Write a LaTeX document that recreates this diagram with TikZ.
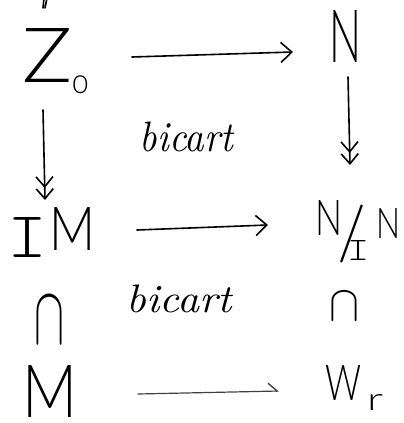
\documentclass[tikz,border=0pt]{standalone}
\usepackage{fontspec}
\usepackage{graphicx}
\usetikzlibrary{arrows.meta}
\IfFontExistsTF{Latin Modern Mono Light}{\newfontfamily\barfont{Latin Modern Mono Light}}{\newfontfamily\barfont{Latin Modern Mono}}
\IfFontExistsTF{Lato Light}{\newfontfamily\handfont{Lato Light}}{\newfontfamily\handfont{Lato}}
\setlength{\unitlength}{1pt}
\newcommand{\fitbox}[3]{\resizebox*{#1pt}{#2pt}{#3}}
\tikzset{
  sym/.style={inner sep=0pt, outer sep=0pt},
  hand/.style={line width=1.6pt, line cap=round, line join=round},
  mapto/.style={hand, -{Straight Barb[length=11pt,width=20pt,line width=1.6pt]}},
  onto/.style={hand, -{Straight Barb[length=10pt,width=17pt,line width=1.6pt]Straight Barb[length=10pt,width=17pt,line width=1.6pt]}},
  halfto/.style={line width=1.2pt, line cap=round, draw=black!75, -{Straight Barb[left,length=9pt,width=16pt,line width=1.4pt]}},
  lbl/.style={sym, font=\itshape}
}
\begin{document}
\begin{tikzpicture}[x=1pt,y=-1pt]
\useasboundingbox (0,0) rectangle (404,423);
% Z_0  box (22-90, 28-93)
\node[sym] (z0) at (56,60.5) {\begin{picture}(68,65)
  \put(1,11){\fitbox{50}{54}{\handfont Z}}
  \put(50,0){\fitbox{17}{18}{\handfont o}}
\end{picture}};
% N  box (330-362, 10-62)
\node[sym] (n) at (346,36) {\fitbox{32}{52}{\handfont N}};
% IM box (8-95, 207-257)
\node[sym] (im) at (51.5,232) {\begin{picture}(87,50)
  \put(0,0){\fitbox{40}{40}{\barfont I}}
  \put(41,7){\fitbox{46}{43}{\handfont M}}
\end{picture}};
% N/_I N box (315-400, 190-260)
\node[sym] (nin) at (357.5,225) {\begin{picture}(85,70)
  \put(0,25){\fitbox{27}{35}{\handfont N}}
  \put(22,12){\resizebox*{!}{58pt}{\rmfamily /}}
  \put(32,0){\fitbox{22}{20}{\barfont I}}
  \put(61,22){\fitbox{24}{30}{\handfont N}}
\end{picture}};
% cap symbols
\node[sym] (capl) at (50,320) {\fitbox{30}{46}{$\cap$}};
\node[sym] (capr) at (344,306) {\fitbox{30}{28}{$\cap$}};
% M box (23-78, 365-418)
\node[sym] (m) at (50.5,391) {\fitbox{55}{52}{\handfont M}};
% W_r box (325-392, 362-410)
\node[sym] (wr) at (358.5,386) {\begin{picture}(67,48)
  \put(0,10){\fitbox{36}{35}{\handfont W}}
  \put(42,0){\fitbox{16}{16}{\handfont r}}
\end{picture}};
% labels
\node[lbl] (b1) at (186.5,137) {\fitbox{93}{30}{\itshape bicart}};
\node[lbl] (b2) at (179.5,299) {\fitbox{105}{28}{\itshape bicart}};
% top fragment
\coordinate (topcut) at (44,-2);
\draw[hand] (topcut) -- ++(-1,10) (topcut) ++(3,0) -- ++(-2,10);
% arrows
\draw[mapto] ([shift={(42,-3.5)}]z0.east) -- ([shift={(-37,16)}]n.west);
\draw[onto] ([shift={(-13,17)}]z0.south) -- ([shift={(-6.5,-7)}]im.north);
\draw[onto] ([shift={(2,15)}]n.south) -- ([shift={(-7.5,-25)}]nin.north);
\draw[mapto] ([shift={(42,-2)}]im.east) -- ([shift={(-47,0)}]nin.west);
\draw[halfto] ([shift={(60,3)}]m.east) -- ([shift={(-46,5)}]wr.west);
\end{tikzpicture}
\end{document}
